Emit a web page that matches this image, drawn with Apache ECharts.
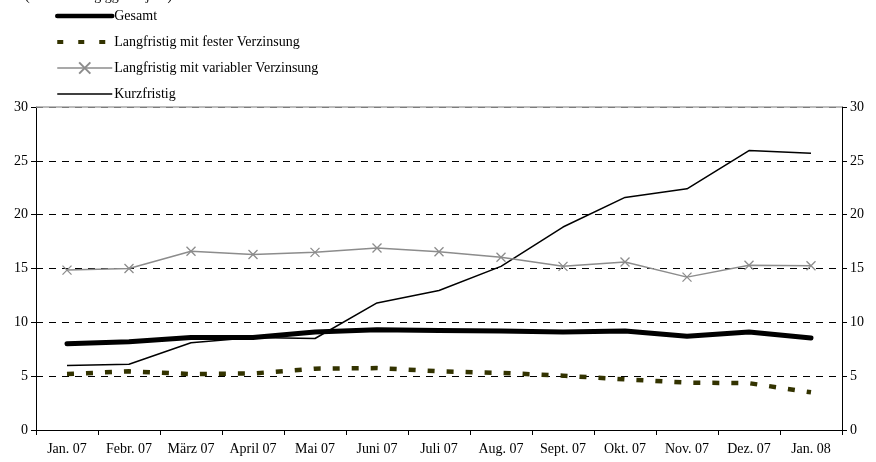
<!DOCTYPE html>
<html>
<head>
<meta charset="utf-8">
<script src="https://cdn.jsdelivr.net/npm/echarts@6/dist/echarts.min.js"></script>
<style>
  html, body { margin: 0; padding: 0; background: #fff; }
  #chart { width: 876px; height: 462px; }
</style>
</head>
<body>
<div id="chart"></div>
<script>
// Monthly values, Jan 07 .. Jan 08
const months = ["Jan. 07", "Febr. 07", "März 07", "April 07", "Mai 07", "Juni 07", "Juli 07",
  "Aug. 07", "Sept. 07", "Okt. 07", "Nov. 07", "Dez. 07", "Jan. 08"];
const gesamt = [8.0, 8.2, 8.6, 8.6, 9.1, 9.3, 9.25, 9.2, 9.1, 9.2, 8.7, 9.1, 8.55];
const festVerzinsung = [5.2, 5.45, 5.2, 5.25, 5.7, 5.75, 5.45, 5.3, 5.05, 4.7, 4.4, 4.35, 3.5];
const variablVerzinsung = [14.85, 15.0, 16.6, 16.3, 16.5, 16.9, 16.55, 16.05, 15.2, 15.6, 14.2, 15.3, 15.25];
const kurzfristig = [6.0, 6.1, 8.1, 8.6, 8.5, 11.8, 12.95, 15.2, 18.85, 21.6, 22.4, 25.95, 25.7];
const yTicks = { min: 0, max: 30, interval: 5 };

const font = "Liberation Serif";
const hidden = { opacity: 0 };
const chart = echarts.init(document.getElementById("chart"));

const yAxisBase = {
  type: "value",
  min: yTicks.min,
  max: yTicks.max,
  interval: yTicks.interval,
  axisLine: { show: true, lineStyle: { color: "#000", width: 1 } },
  axisTick: { show: true, length: 5, lineStyle: { color: "#000" } },
  axisLabel: { color: "#000", fontFamily: font, fontSize: 14, margin: 8 },
};

chart.setOption({
  animation: false,
  backgroundColor: "#fff",
  textStyle: { fontFamily: font },
  graphic: [{
    type: "text",
    left: 25,
    top: -11,
    style: { text: "(Veränderung gg. Vorjahr)", font: "14px Liberation Serif", fill: "#000" },
  }],
  legend: {
    orient: "vertical",
    left: 50,
    top: 4,
    padding: 5,
    itemWidth: 55,
    itemHeight: 14,
    itemGap: 12,
    textStyle: { fontFamily: font, fontSize: 14, color: "#000", padding: [0, 0, 0, -3] },
    data: [
      { name: "Gesamt", itemStyle: hidden, lineStyle: { width: 4.5, color: "#000" } },
      { name: "Langfristig mit fester Verzinsung", itemStyle: hidden, lineStyle: { width: 4, color: "#333300", type: [6, 15] } },
      { name: "Langfristig mit variabler Verzinsung", lineStyle: { width: 1.5, color: "#8c8c8c" } },
      { name: "Kurzfristig", itemStyle: hidden, lineStyle: { width: 1.5, color: "#000" } },
    ],
  },
  grid: { left: 36, right: 34, top: 107, bottom: 32 },
  xAxis: {
    type: "category",
    data: months,
    boundaryGap: true,
    axisLine: { lineStyle: { color: "#000" } },
    axisTick: { show: true, length: 5, inside: false, lineStyle: { color: "#000" } },
    axisLabel: { color: "#000", fontFamily: font, fontSize: 14, margin: 12, interval: 0 },
  },
  yAxis: [
    Object.assign({}, yAxisBase, {
      position: "left",
      splitLine: { show: true, lineStyle: { color: "#000", type: [7, 6], width: 1 } },
    }),
    Object.assign({}, yAxisBase, {
      position: "right",
      splitLine: { show: false },
    }),
  ],
  series: [
    {
      name: "Kurzfristig",
      type: "line",
      data: kurzfristig,
      symbol: "none",
      lineStyle: { color: "#000", width: 1.5 },
      itemStyle: { color: "#000" },
      z: 3,
    },
    {
      name: "Langfristig mit variabler Verzinsung",
      type: "line",
      data: variablVerzinsung,
      symbol: "path://M0,0L10,10M10,0L0,10",
      symbolSize: 9,
      showSymbol: true,
      lineStyle: { color: "#8c8c8c", width: 1.5 },
      itemStyle: { color: "#8c8c8c", borderColor: "#8c8c8c", borderWidth: 1.3 },
      z: 3,
    },
    {
      name: "Langfristig mit fester Verzinsung",
      type: "line",
      data: festVerzinsung,
      symbol: "none",
      lineStyle: { color: "#333300", width: 4.5, type: [7, 12], cap: "butt" },
      itemStyle: { color: "#333300" },
      z: 3,
    },
    {
      name: "Gesamt",
      type: "line",
      data: gesamt,
      symbol: "none",
      lineStyle: { color: "#000", width: 5, cap: "round" },
      itemStyle: { color: "#000" },
      z: 4,
      markLine: {
        silent: true,
        symbol: "none",
        label: { show: false },
        lineStyle: { color: "#a6a6a6", type: "solid", width: 1.5 },
        data: [{ yAxis: yTicks.max }],
      },
    },
  ],
});
</script>
</body>
</html>
